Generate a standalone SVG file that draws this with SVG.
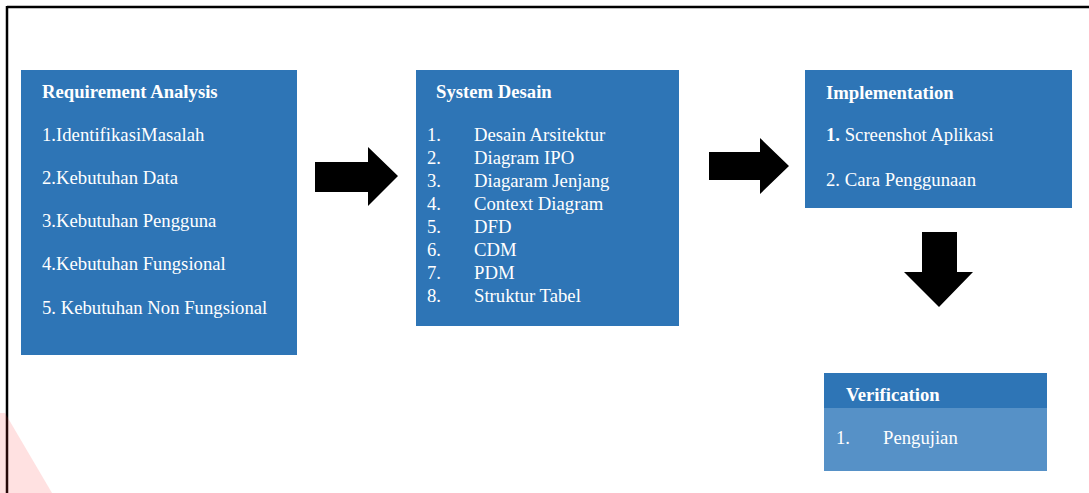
<svg xmlns="http://www.w3.org/2000/svg" width="1089" height="493" viewBox="0 0 1089 493">
  <style>
    .box { fill: #2E75B6; }
    .box-light { fill: #5691C7; }
    .t { font-family: "Liberation Serif", "Times New Roman", serif; font-size: 18.7px; fill: #FFFFFF; }
    .b { font-weight: bold; }
    .arrow { fill: #000000; }
  </style>

  <rect x="0" y="0" width="1089" height="493" fill="#FFFFFF"/>

  <!-- page frame -->
  <g id="frame" stroke="#000000" stroke-width="2.5" fill="none">
    <line x1="7" y1="7" x2="1089" y2="7"/>
    <line x1="7" y1="6" x2="7" y2="493"/>
  </g>

  <!-- faint corner mark -->
  <polygon points="0,413 5,413 52,493 0,493" fill="#F33" opacity="0.15"/>

  <g id="requirement-analysis">
    <rect class="box" x="21" y="70" width="276" height="285"/>
    <text class="t b" x="42" y="98">Requirement Analysis</text>
    <text class="t" x="42" y="141">1.IdentifikasiMasalah</text>
    <text class="t" x="42" y="184">2.Kebutuhan Data</text>
    <text class="t" x="42" y="227">3.Kebutuhan Pengguna</text>
    <text class="t" x="42" y="270">4.Kebutuhan Fungsional</text>
    <text class="t" x="42" y="314">5. Kebutuhan Non Fungsional</text>
  </g>

  <g id="system-desain">
    <rect class="box" x="416" y="70" width="263" height="256"/>
    <text class="t b" x="436" y="98">System Desain</text>
    <text class="t" x="427" y="141">1.</text><text class="t" x="474" y="141">Desain Arsitektur</text>
    <text class="t" x="427" y="164">2.</text><text class="t" x="474" y="164">Diagram IPO</text>
    <text class="t" x="427" y="187">3.</text><text class="t" x="474" y="187">Diagaram Jenjang</text>
    <text class="t" x="427" y="210">4.</text><text class="t" x="474" y="210">Context Diagram</text>
    <text class="t" x="427" y="233">5.</text><text class="t" x="474" y="233">DFD</text>
    <text class="t" x="427" y="256">6.</text><text class="t" x="474" y="256">CDM</text>
    <text class="t" x="427" y="279">7.</text><text class="t" x="474" y="279">PDM</text>
    <text class="t" x="427" y="302">8.</text><text class="t" x="474" y="302">Struktur Tabel</text>
  </g>

  <g id="implementation">
    <rect class="box" x="805" y="70" width="267" height="138"/>
    <text class="t b" x="826" y="99">Implementation</text>
    <text class="t" x="826" y="141"><tspan class="b">1.</tspan> Screenshot Aplikasi</text>
    <text class="t" x="826" y="186">2. Cara Penggunaan</text>
  </g>

  <g id="verification">
    <rect class="box-light" x="824" y="373" width="223" height="98"/>
    <rect class="box" x="824" y="373" width="223" height="35"/>
    <text class="t b" x="846" y="401">Verification</text>
    <text class="t" x="836" y="444">1.</text>
    <text class="t" x="883" y="444">Pengujian</text>
  </g>

  <!-- block arrows between stages -->
  <g id="connectors">
    <polygon class="arrow" points="315,162 368,162 368,147 398,176 368,206 368,192 315,192"/>
    <polygon class="arrow" points="709,152 760,152 760,138 789,166 760,194 760,180 709,180"/>
    <polygon class="arrow" points="922,232 957,232 957,272 973,272 939,307 904,272 922,272"/>
  </g>
</svg>
